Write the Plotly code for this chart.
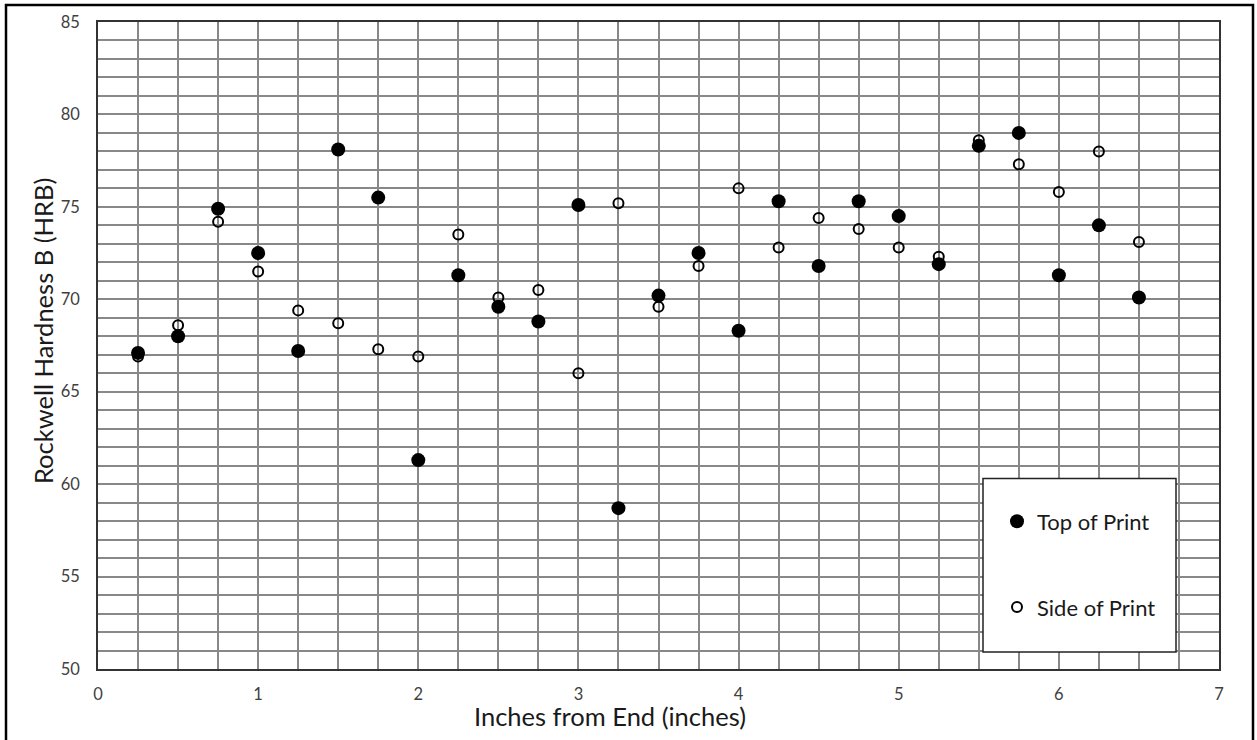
import plotly.graph_objects as go

x_pos = [0.25, 0.5, 0.75, 1.0, 1.25, 1.5, 1.75, 2.0, 2.25, 2.5, 2.75, 3.0, 3.25,
         3.5, 3.75, 4.0, 4.25, 4.5, 4.75, 5.0, 5.25, 5.5, 5.75, 6.0, 6.25, 6.5]
top_of_print = [67.1, 68.0, 74.9, 72.5, 67.2, 78.1, 75.5, 61.3, 71.3, 69.6, 68.8, 75.1, 58.7,
                70.2, 72.5, 68.3, 75.3, 71.8, 75.3, 74.5, 71.9, 78.3, 79.0, 71.3, 74.0, 70.1]
side_of_print = [66.9, 68.6, 74.2, 71.5, 69.4, 68.7, 67.3, 66.9, 73.5, 70.1, 70.5, 66.0, 75.2,
                 69.6, 71.8, 76.0, 72.8, 74.4, 73.8, 72.8, 72.3, 78.6, 77.3, 75.8, 78.0, 73.1]

FONT = "Lato"
W, H = 1257, 740
L, R, T, B = 98, 1219, 20, 669


def px_x(p):
    return (p - L) / (R - L)


def px_y(p):
    return (B - p) / (B - T)


fig = go.Figure()
fig.add_trace(go.Scatter(
    x=x_pos, y=top_of_print, mode="markers", name="Top of Print",
    legendgroup="a",
    marker=dict(symbol="circle", size=14, color="black"),
))
fig.add_trace(go.Scatter(
    x=x_pos, y=side_of_print, mode="markers", name="Side of Print",
    legendgroup="b",
    marker=dict(symbol="circle-open", size=10, color="black", line=dict(width=2, color="black")),
))

grid_c = "#888888"
axis_common = dict(
    showline=True, linecolor="#333333", linewidth=1.5, mirror=True,
    showgrid=True, gridcolor=grid_c, gridwidth=1.5,
    zeroline=False, ticks="",
    tickfont=dict(family=FONT, size=16.5, color="#404040"),
)

fig.update_xaxes(range=[0, 7], dtick=1, tick0=0,
                 minor=dict(dtick=0.25, showgrid=True, gridcolor=grid_c, gridwidth=1.5),
                 ticklabelstandoff=9, **axis_common)
fig.update_yaxes(range=[50, 85], dtick=5, tick0=50,
                 minor=dict(dtick=1, showgrid=True, gridcolor=grid_c, gridwidth=1.5),
                 ticklabelstandoff=13, **axis_common)

# legend box and outer frame
fig.add_shape(type="rect", xref="paper", yref="paper",
              x0=px_x(983), x1=px_x(1176), y0=px_y(652), y1=px_y(478),
              line=dict(color="#222222", width=1.5), fillcolor="white", layer="above")
fig.add_shape(type="rect", xref="paper", yref="paper",
              x0=px_x(6), x1=px_x(1253), y0=px_y(760), y1=px_y(3),
              line=dict(color="black", width=2.5), fillcolor="rgba(0,0,0,0)", layer="above")

fig.add_annotation(text="Inches from End (inches)", xref="paper", yref="paper",
                   x=px_x(610), y=px_y(716), xanchor="center", yanchor="middle",
                   showarrow=False, font=dict(family=FONT, size=25.5, color="#1a1a1a"))
fig.add_annotation(text="Rockwell Hardness B (HRB)", xref="paper", yref="paper",
                   x=px_x(43), y=px_y(330), xanchor="center", yanchor="middle", textangle=-90,
                   showarrow=False, font=dict(family=FONT, size=25.5, color="#1a1a1a"))

fig.update_layout(
    width=W, height=H,
    margin=dict(l=L, r=W - R, t=T, b=H - B),
    paper_bgcolor="white", plot_bgcolor="white",
    showlegend=True,
    legend=dict(
        x=px_x(997), y=px_y(500), xanchor="left", yanchor="top",
        bgcolor="rgba(0,0,0,0)", borderwidth=0,
        font=dict(family=FONT, size=22, color="#1a1a1a"),
        tracegroupgap=54, itemwidth=30,
    ),
)

fig.write_html("out.html")
